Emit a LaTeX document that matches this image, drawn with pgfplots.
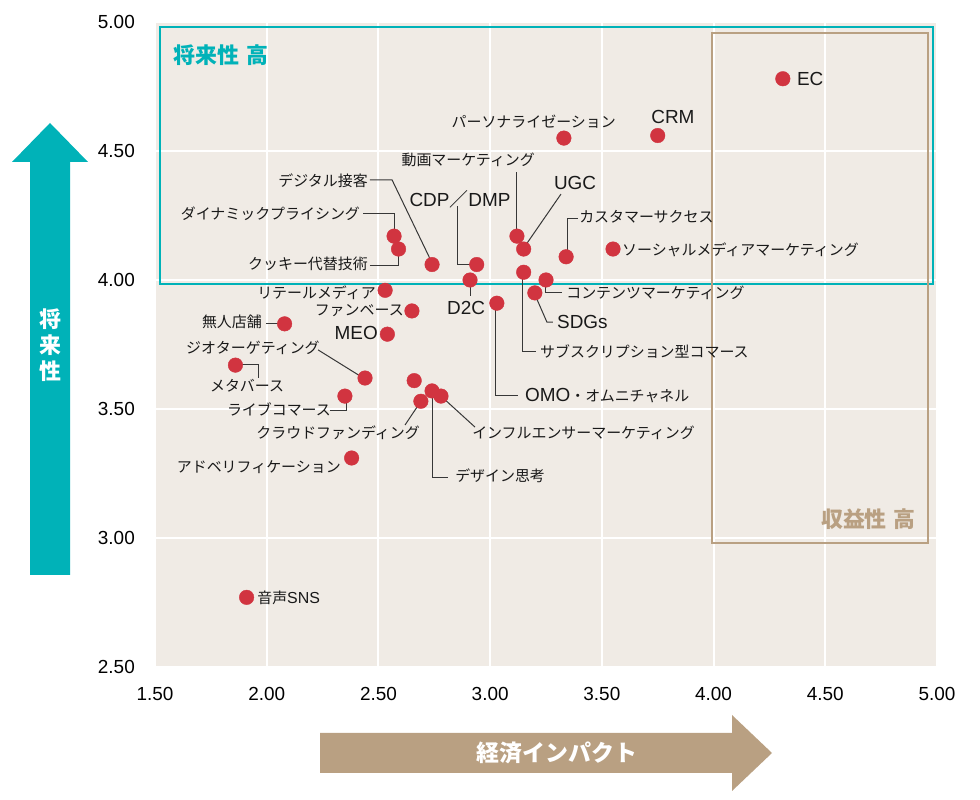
\documentclass[border=0pt]{standalone}
\usepackage{pgfplots}
\pgfplotsset{compat=1.18}
\usepackage{fontspec}
\setmainfont{Liberation Sans}
\newfontfamily\jp{Noto Sans CJK JP}
\definecolor{bgc}{RGB}{240,235,229}
\definecolor{cy}{RGB}{0,178,184}
\definecolor{tan}{RGB}{185,160,130}
\definecolor{myred}{RGB}{209,52,64}
\definecolor{ld}{RGB}{55,55,55}
\tikzset{
  jl/.style={font=\jp\fontsize{15}{15}\selectfont, inner sep=0pt, text=black!90},
  ll/.style={font=\fontsize{19}{19}\selectfont, inner sep=0pt, text=black!90},
  ln/.style={draw=ld, line width=1bp}
}
\begin{document}
\begin{tikzpicture}
\useasboundingbox (0,0) rectangle (980bp,800bp);
% left arrow
\fill[cy] (30bp,225bp) -- (30bp,638bp) -- (12bp,638bp) -- (50bp,677bp) -- (88bp,638bp) -- (70bp,638bp) -- (70bp,225bp) -- cycle;
\node[text=white, font=\jp\bfseries\fontsize{22}{26}\selectfont, align=center, inner sep=0pt] at (50bp,455bp) {将\\来\\性};
% bottom arrow
\fill[tan] (320bp,67bp) -- (732bp,67bp) -- (732bp,85bp) -- (772bp,47bp) -- (732bp,9bp) -- (732bp,27bp) -- (320bp,27bp) -- cycle;
\node[text=white, font=\jp\bfseries\fontsize{23}{23}\selectfont, inner sep=0pt] at (557bp,47bp) {経済インパクト};
\begin{axis}[
  at={(155bp,133bp)}, anchor=south west,
  scale only axis, width=782bp, height=645bp,
  xmin=1.5, xmax=5.0, ymin=2.5, ymax=5.0,
  xtick={1.5,2,...,5}, ytick={2.5,3,...,5},
  axis background/.style={fill=bgc},
  axis line style={draw=none},
  major tick length=0pt,
  grid=major, grid style={white, line width=2bp},
  clip=false,
  /pgf/number format/.cd, fixed, fixed zerofill, precision=2, assume math mode=true,
  /pgfplots/.cd,
  ticklabel style={font=\fontsize{19}{19}\selectfont},
  yticklabel style={anchor=east, inner sep=0pt, xshift=-20bp},
  xticklabel style={anchor=north, inner sep=0pt, yshift=-20bp},
]
% quadrant boxes
\draw[cy, line width=2.5bp] (axis cs:1.522,3.984) rectangle (axis cs:4.982,4.981);
\draw[tan, line width=2bp] (axis cs:3.993,2.981) rectangle (axis cs:4.960,4.957);
\node[anchor=west, text=cy, font=\jp\bfseries\fontsize{22}{22}\selectfont, inner sep=0pt] at (axis cs:1.581,4.872) {将来性\hspace{7bp}高};
\node[anchor=east, text=tan, font=\jp\bfseries\fontsize{22}{22}\selectfont, inner sep=0pt] at (axis cs:4.906,3.074) {収益性\hspace{7bp}高};
% leader lines
\draw[ln] (axis cs:3.116,4.174) -- (axis cs:3.116,4.419);
\draw[ln] (axis cs:3.147,4.12) -- (axis cs:3.317,4.333);
\draw[ln] (axis cs:2.937,4.062) -- (axis cs:2.852,4.062) -- (axis cs:2.852,4.287);
\draw[ln] (axis cs:2.462,4.388) -- (axis cs:2.561,4.388) -- (axis cs:2.740,4.066);
\draw[ln] (axis cs:2.431,4.256) -- (axis cs:2.574,4.256) -- (axis cs:2.574,4.180);
\draw[ln] (axis cs:2.462,4.058) -- (axis cs:2.592,4.058) -- (axis cs:2.592,4.110);
\draw[ln] (axis cs:1.997,3.833) -- (axis cs:2.077,3.833);
\draw[ln] (axis cs:2.230,3.729) -- (axis cs:2.440,3.616);
\draw[ln] (axis cs:1.858,3.671) -- (axis cs:1.961,3.671) -- (axis cs:1.961,3.620);
\draw[ln] (axis cs:2.283,3.496) -- (axis cs:2.355,3.496) -- (axis cs:2.355,3.554);
\draw[ln] (axis cs:2.619,3.438) -- (axis cs:2.691,3.531);
\draw[ln] (axis cs:2.740,3.574) -- (axis cs:2.740,3.236) -- (axis cs:2.811,3.236);
\draw[ln] (axis cs:2.780,3.55) -- (axis cs:2.932,3.430);
\draw[ln] (axis cs:2.914,4.0) -- (axis cs:2.914,3.938);
\draw[ln] (axis cs:3.026,3.915) -- (axis cs:3.026,3.554) -- (axis cs:3.125,3.554);
\draw[ln] (axis cs:3.147,4.031) -- (axis cs:3.147,3.721) -- (axis cs:3.205,3.721);
\draw[ln] (axis cs:3.197,3.950) -- (axis cs:3.254,3.837) -- (axis cs:3.281,3.837);
\draw[ln] (axis cs:3.246,4.0) -- (axis cs:3.246,3.950) -- (axis cs:3.322,3.950);
\draw[ln] (axis cs:3.344,4.085) -- (axis cs:3.344,4.240) -- (axis cs:3.393,4.240);
% points
\addplot[only marks, mark=*, color=myred, mark size=7.3bp, mark options={fill=myred, draw=myred, line width=0.4bp}] coordinates {
(4.31,4.78) (3.75,4.56) (3.33,4.55) (3.12,4.17) (3.15,4.12) (3.34,4.09) (3.55,4.12)
(2.94,4.06) (2.74,4.06) (2.57,4.17) (2.59,4.12) (2.91,4.00) (3.25,4.00) (3.15,4.03)
(3.20,3.95) (3.03,3.91) (2.53,3.96) (2.65,3.88) (2.54,3.79) (2.08,3.83) (1.86,3.67)
(2.44,3.62) (2.35,3.55) (2.66,3.61) (2.74,3.57) (2.78,3.55) (2.69,3.53) (2.38,3.31)
(1.91,2.77)
};
% labels
\node[ll, anchor=west] at (axis cs:4.373,4.779) {EC};
\node[ll] at (axis cs:3.818,4.632) {CRM};
\node[jl, anchor=east] at (axis cs:3.563,4.612) {パーソナライゼーション};
\node[jl, anchor=east] at (axis cs:3.201,4.465) {動画マーケティング};
\node[ll] at (axis cs:3.380,4.376) {UGC};
\node[ll] at (axis cs:2.865,4.314) {CDP{\jp ／}DMP};
\node[jl, anchor=east] at (axis cs:2.453,4.384) {デジタル接客};
\node[jl, anchor=east] at (axis cs:2.418,4.256) {ダイナミックプライシング};
\node[jl, anchor=east] at (axis cs:2.453,4.062) {クッキー代替技術};
\node[jl, anchor=east] at (axis cs:2.489,3.950) {リテールメディア};
\node[jl, anchor=east] at (axis cs:2.614,3.880) {ファンベース};
\node[ll, anchor=east] at (axis cs:2.498,3.795) {MEO};
\node[jl, anchor=east] at (axis cs:1.979,3.837) {無人店舗};
\node[jl, anchor=east] at (axis cs:2.238,3.736) {ジオターゲティング};
\node[jl] at (axis cs:1.912,3.589) {メタバース};
\node[jl, anchor=east] at (axis cs:2.288,3.500) {ライブコマース};
\node[jl, anchor=east] at (axis cs:2.686,3.407) {クラウドファンディング};
\node[jl, anchor=west] at (axis cs:2.843,3.240) {デザイン思考};
\node[jl, anchor=west] at (axis cs:2.919,3.407) {インフルエンサーマーケティング};
\node[jl, anchor=east] at (axis cs:2.332,3.275) {アドベリフィケーション};
\node[ll, anchor=west, font=\fontsize{16}{16}\selectfont] at (axis cs:1.957,2.767) {{\jp\fontsize{15}{15}\selectfont 音声}SNS};
\node[ll] at (axis cs:2.892,3.891) {D2C};
\node[ll, anchor=west] at (axis cs:3.156,3.554) {OMO{\jp\fontsize{15}{15}\selectfont ・オムニチャネル}};
\node[jl, anchor=west] at (axis cs:3.223,3.721) {サブスクリプション型コマース};
\node[ll, anchor=west] at (axis cs:3.299,3.837) {SDGs};
\node[jl, anchor=west] at (axis cs:3.340,3.950) {コンテンツマーケティング};
\node[jl, anchor=west] at (axis cs:3.398,4.244) {カスタマーサクセス};
\node[jl, anchor=west] at (axis cs:3.590,4.116) {ソーシャルメディアマーケティング};
\end{axis}
\end{tikzpicture}
\end{document}
